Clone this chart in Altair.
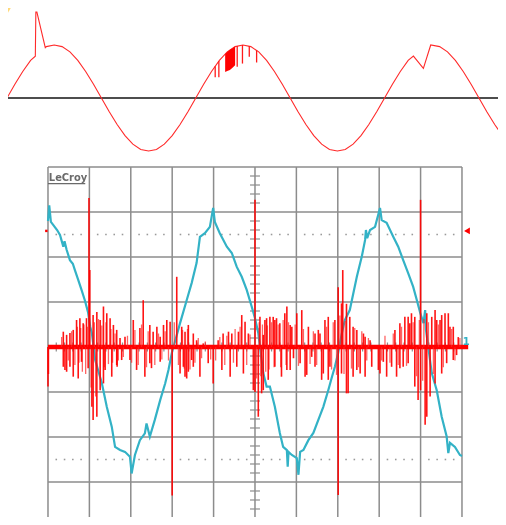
import altair as alt
import pandas as pd

# ---------------- upper schematic trace (x: electrical degrees, y: per-unit) ----------------
top_deg = [0, 15, 30, 45, 54, 55, 57, 73, 75, 90, 105, 120, 135, 150, 165, 180, 195, 210, 225,
           240, 255, 270, 285, 300, 315, 330, 345, 360, 375, 390, 405, 420, 435, 450, 465, 480,
           495, 510, 525, 540, 555, 570, 585, 600, 615, 630, 645, 660, 675, 690, 705, 720, 735,
           750, 765, 775, 794, 808, 825, 840, 855, 870, 885, 900, 915, 930, 945, 960]
top_amp = [0.00, 0.26, 0.50, 0.71, 0.79, 1.62, 1.62, 0.95, 0.97, 1.00, 0.97, 0.87, 0.71, 0.50,
           0.26, 0.00, -0.26, -0.50, -0.71, -0.87, -0.97, -1.00, -0.97, -0.87, -0.71, -0.50,
           -0.26, 0.00, 0.26, 0.50, 0.71, 0.87, 0.97, 1.00, 0.97, 0.87, 0.71, 0.50, 0.26, 0.00,
           -0.26, -0.50, -0.71, -0.87, -0.97, -1.00, -0.97, -0.87, -0.71, -0.50, -0.26, 0.00,
           0.26, 0.50, 0.71, 0.79, 0.56, 1.00, 0.97, 0.87, 0.71, 0.50, 0.26, 0.00, -0.26, -0.50,
           -0.71, -0.87]

# notches cut into the second positive half-wave
drop_deg = [397, 404, 439, 449, 462, 476]
drop_top = [0.60, 0.70, 0.98, 1.00, 0.98, 0.90]
drop_bot = [0.39, 0.39, 0.59, 0.65, 0.78, 0.67]

fill_deg = [416, 420, 425, 430, 435]
fill_top = [0.83, 0.87, 0.91, 0.94, 0.97]
fill_bot = [0.49, 0.51, 0.53, 0.57, 0.62]

# ---------------- oscilloscope capture (x, y in screen divisions) ----------------
grid_x = [0, 1, 2, 3, 4, 5, 6, 7, 8, 9, 10]
grid_y = [-4, -3, -2, -1, 0, 1, 2, 3, 4]
cursor_levels = [2.5, -2.5]

cyan_x = [0.00, 0.03, 0.07, 0.13, 0.22, 0.29, 0.37, 0.40, 0.45, 0.53, 0.60, 0.65, 0.73, 0.81,
          0.89, 0.97, 1.02, 1.06, 1.14, 1.30, 1.42, 1.54, 1.62, 1.74, 1.86, 1.98, 2.02, 2.10,
          2.22, 2.34, 2.38, 2.46, 2.58, 2.71, 2.83, 2.91, 2.99, 3.19, 3.35, 3.47, 3.59, 3.67,
          3.79, 3.91, 3.99, 4.03, 4.15, 4.32, 4.44, 4.56, 4.68, 4.80, 4.92, 5.00, 5.08, 5.16,
          5.20, 5.28, 5.36, 5.48, 5.60, 5.68, 5.77, 5.79, 5.81, 5.89, 6.01, 6.05, 6.09, 6.17,
          6.29, 6.41, 6.53, 6.65, 6.77, 6.86, 6.93, 7.01, 7.09, 7.17, 7.29, 7.46, 7.58, 7.66,
          7.68, 7.71, 7.78, 7.90, 8.02, 8.06, 8.18, 8.34, 8.46, 8.58, 8.70, 8.82, 8.91, 8.99,
          9.07, 9.11, 9.13, 9.27, 9.39, 9.51, 9.63, 9.67, 9.71, 9.83, 9.95, 10.00]
cyan_y = [2.80, 3.15, 2.78, 2.71, 2.60, 2.49, 2.23, 2.35, 2.16, 1.93, 1.85, 1.71, 1.49, 1.27,
          1.04, 0.76, 0.45, 0.31, -0.29, -0.80, -1.33, -1.77, -2.22, -2.29, -2.33, -2.44, -2.81,
          -2.40, -2.07, -1.92, -1.70, -1.99, -1.62, -1.18, -0.81, -0.51, -0.14, 0.53, 1.04, 1.42,
          1.87, 2.45, 2.53, 2.67, 3.09, 2.78, 2.53, 2.23, 2.09, 1.78, 1.56, 1.27, 0.90, 0.64,
          0.31, -0.29, -0.58, -0.88, -0.88, -1.33, -1.91, -2.22, -2.29, -2.66, -2.33, -2.40,
          -2.47, -2.84, -2.33, -2.29, -2.07, -1.91, -1.62, -1.33, -0.96, -0.66, -0.44, -0.13,
          0.27, 0.60, 0.82, 1.56, 2.01, 2.38, 2.60, 2.42, 2.60, 2.67, 3.09, 2.82, 2.76, 2.45,
          2.23, 1.93, 1.64, 1.34, 1.04, 0.76, 0.53, 0.82, 0.38, -0.58, -0.96, -1.55, -1.99,
          -2.36, -2.13, -2.22, -2.40, -2.42]

# strong red spikes
red_x = [
    0.00, 0.01, 0.37, 0.37, 0.41, 0.45, 0.45, 0.53, 0.53, 0.61,
    0.61, 0.69, 0.73, 0.77, 0.81, 0.85, 0.93, 0.97, 0.99, 1.01,
    1.06, 1.09, 1.09, 1.18, 1.18, 1.26, 1.26, 1.34, 1.34, 1.38,
    1.42, 1.50, 1.54, 1.58, 1.66, 1.66, 1.67, 1.74, 1.78, 1.86,
    1.98, 2.06, 2.14, 2.22, 2.30, 2.34, 2.46, 2.46, 2.50, 2.54,
    2.63, 2.71, 2.71, 2.79, 2.87, 2.95, 3.00, 3.11, 3.19, 3.23,
    3.27, 3.31, 3.31, 3.35, 3.39, 3.39, 3.47, 3.51, 3.51, 3.59,
    3.67, 3.75, 3.87, 3.99, 4.11, 4.20, 4.23, 4.36, 4.40, 4.44,
    4.56, 4.60, 4.68, 4.72, 4.76, 4.84, 4.96, 5.00, 5.00, 5.08,
    5.12, 5.16, 5.20, 5.20, 5.24, 5.28, 5.32, 5.36, 5.44, 5.48,
    5.48, 5.52, 5.60, 5.64, 5.72, 5.77, 5.77, 5.85, 5.85, 5.89,
    5.93, 6.01, 6.09, 6.13, 6.21, 6.25, 6.29, 6.37, 6.45, 6.45,
    6.53, 6.57, 6.61, 6.65, 6.69, 6.77, 6.77, 6.81, 6.93, 7.01,
    7.01, 7.09, 7.09, 7.12, 7.21, 7.21, 7.25, 7.29, 7.37, 7.37,
    7.46, 7.46, 7.54, 7.62, 7.66, 7.66, 7.78, 7.82, 7.98, 8.02,
    8.10, 8.18, 8.30, 8.38, 8.42, 8.50, 8.50, 8.58, 8.62, 8.70,
    8.70, 8.74, 8.78, 8.86, 8.86, 8.94, 9.00, 9.00, 9.11, 9.15,
    9.15, 9.23, 9.27, 9.35, 9.35, 9.39, 9.47, 9.51, 9.51, 9.59,
    9.63, 9.67, 9.71, 9.79, 9.79, 9.87, 9.91,
]
red_y = [
    -0.88, -0.60, 0.34, -0.44, -0.51, 0.27, -0.55, 0.31, -0.44, 0.38,
    -0.66, 0.60, -0.70, 0.64, -0.33, 0.53, 0.64, -0.47, 3.31, 1.71,
    -1.33, 0.71, -1.62, 0.78, -1.55, 0.60, -0.96, 0.90, -0.81, -0.51,
    0.75, 0.64, -0.66, 0.49, 0.38, -0.40, -0.44, 0.20, -0.29, 0.23,
    -0.29, 0.60, -0.51, 0.42, 1.04, -0.66, 0.49, -0.36, -0.47, 0.34,
    0.45, 0.23, -0.33, 0.49, 0.60, 0.56, -3.30, 1.56, -0.59, 0.45,
    -0.44, 0.34, -0.66, -0.70, 0.49, -0.55, -0.29, 0.30, -0.44, 0.15,
    -0.66, 0.08, -0.36, -0.81, 0.15, -0.51, 0.30, 0.34, -0.66, 0.30,
    -0.44, 0.34, 0.71, -0.59, 0.56, 0.30, -0.96, 3.27, -1.00, -1.55,
    0.67, -1.03, 0.27, -0.96, 0.60, 0.64, -0.73, 0.67, 0.67, 0.60,
    -0.44, 0.64, 0.53, -0.66, 0.75, 0.90, -0.51, 0.49, -0.51, 0.45,
    -0.25, 0.75, -0.36, 0.82, -0.66, -0.62, 0.45, -0.22, 0.30, -0.44,
    0.38, 0.30, -0.73, -0.59, 0.60, 0.67, -0.73, -0.44, 0.60, 1.33,
    -3.29, 0.97, -0.59, 1.71, 0.96, -1.03, -1.03, 0.67, 0.45, -0.66,
    0.38, -0.51, -0.59, 0.30, 0.23, -0.66, 0.15, -0.44, -0.51, -0.59,
    -0.33, -0.66, -0.44, 0.38, -0.66, 0.53, -0.47, -0.44, 0.67, 0.67,
    -0.36, 0.53, 0.75, 0.67, -0.88, -1.18, 3.27, -0.96, -1.73, 0.75,
    -1.55, -1.10, 0.67, 0.82, -0.81, 0.60, 0.60, 0.71, -0.59, 0.75,
    -0.36, 0.75, 0.45, 0.45, -0.29, -0.18, 0.22,
]

# fainter, smaller red spikes filling the noisy bursts
red2_x = [
    0.33, 0.49, 0.57, 0.65, 0.71, 0.75, 0.79, 0.83, 0.87, 0.91,
    0.95, 1.04, 1.12, 1.15, 1.22, 1.30, 1.36, 1.40, 1.46, 1.52,
    1.56, 1.62, 1.70, 1.82, 1.92, 2.02, 2.10, 2.18, 2.26, 2.38,
    2.42, 2.58, 2.67, 2.75, 2.83, 2.91, 3.05, 3.15, 3.25, 3.29,
    3.37, 3.43, 3.55, 3.63, 3.71, 3.80, 3.93, 4.05, 4.15, 4.27,
    4.32, 4.48, 4.52, 4.64, 4.80, 4.88, 5.04, 5.10, 5.14, 5.18,
    5.26, 5.30, 5.34, 5.40, 5.46, 5.56, 5.62, 5.68, 5.75, 5.81,
    5.97, 6.05, 6.17, 6.33, 6.41, 6.49, 6.73, 6.85, 6.89, 6.97,
    7.05, 7.15, 7.18, 7.33, 7.41, 7.50, 7.58, 7.70, 7.74, 8.06,
    8.14, 8.26, 8.34, 8.46, 8.54, 8.66, 8.82, 8.90, 8.97, 9.05,
    9.08, 9.19, 9.31, 9.43, 9.55, 9.75, 9.83, 9.95,
]
red2_y = [
    0.22, -0.30, 0.35, -0.40, 0.45, -0.35, 0.42, -0.55, 0.50, -0.60,
    0.45, -0.90, 0.55, -1.10, 0.62, 0.48, -0.45, 0.55, -0.38, 0.40,
    -0.35, 0.30, -0.30, -0.22, 0.25, -0.35, 0.38, -0.40, 0.50, -0.45,
    0.35, -0.40, 0.30, -0.28, 0.35, -0.30, 0.55, -0.40, 0.38, -0.48,
    0.40, -0.50, -0.35, 0.20, -0.25, 0.12, -0.28, -0.30, 0.22, -0.40,
    0.25, -0.35, 0.40, 0.45, -0.40, 0.28, -0.70, 0.55, -0.65, 0.50,
    -0.55, 0.48, -0.50, 0.55, -0.45, 0.50, -0.45, 0.60, -0.40, 0.55,
    0.50, -0.42, 0.40, -0.38, 0.35, -0.40, 0.45, -0.50, 0.55, -0.62,
    0.70, -0.60, 0.58, -0.48, 0.42, -0.45, 0.35, -0.30, 0.20, -0.30,
    0.25, -0.35, 0.30, -0.40, 0.45, -0.42, 0.55, -0.65, 0.60, -0.75,
    0.62, 0.55, -0.60, 0.50, -0.45, 0.40, -0.30, 0.20,
]

# ---------------- layout ----------------
W = 490
H_TOP = 155
H_BOT = 354

sx_top = alt.Scale(domain=[1.9, 936.3], nice=False, zero=False)
sy_top = alt.Scale(domain=[-1.226, 1.698], nice=False, zero=False)
sx_bot = alt.Scale(domain=[-0.966, 10.87], nice=False, zero=False)
sy_bot = alt.Scale(domain=[-3.778, 4.089], nice=False, zero=False)


def TX(f):
    return alt.X(f, scale=sx_top, axis=None)


def TY(f):
    return alt.Y(f, scale=sy_top, axis=None)


def BX(f):
    return alt.X(f, scale=sx_bot, axis=None)


def BY(f):
    return alt.Y(f, scale=sy_bot, axis=None)


# ---- top panel ----
sun = alt.Chart(pd.DataFrame({"deg": [-32.4], "amp": [1.887]})).mark_circle(
    size=2124, color="#FFD97A", opacity=1, clip=True
).encode(x=TX("deg:Q"), y=TY("amp:Q"))

zero_line = alt.Chart(pd.DataFrame({"d0": [0], "d1": [960], "a": [0]})).mark_rule(
    color="#4d4d4d", strokeWidth=1.8, clip=True
).encode(x=TX("d0:Q"), x2="d1", y=TY("a:Q"))

sine_df = pd.DataFrame({"deg": top_deg, "amp": top_amp, "i": range(len(top_deg))})
sine = alt.Chart(sine_df).mark_line(color="#ff2a2a", strokeWidth=1.1, clip=True).encode(
    x=TX("deg:Q"), y=TY("amp:Q"), order="i:Q"
)

drops = alt.Chart(pd.DataFrame({"deg": drop_deg, "top": drop_top, "bot": drop_bot})).mark_rule(
    color="#ff1a1a", strokeWidth=1.3, clip=True
).encode(x=TX("deg:Q"), y=TY("top:Q"), y2="bot")

fill = alt.Chart(pd.DataFrame({"deg": fill_deg, "top": fill_top, "bot": fill_bot})).mark_area(
    color="#ff0000", clip=True
).encode(x=TX("deg:Q"), y=TY("top:Q"), y2="bot")

top = alt.layer(sun, zero_line, sine, fill, drops).properties(width=W, height=H_TOP)

# ---- bottom panel (scope) ----
vgrid = alt.Chart(pd.DataFrame({"x": grid_x, "y0": -4.3, "y1": 4})).mark_rule(
    color="#8c8c8c", strokeWidth=1.5, clip=True
).encode(x=BX("x:Q"), y=BY("y0:Q"), y2="y1")

hgrid = alt.Chart(pd.DataFrame({"y": grid_y, "x0": 0, "x1": 10})).mark_rule(
    color="#8c8c8c", strokeWidth=1.5, clip=True
).encode(y=BY("y:Q"), x=BX("x0:Q"), x2="x1")

sub_y = [g + s for g in grid_y[:-1] for s in (0.2, 0.4, 0.6, 0.8)]
sub_x = [g + s for g in grid_x[:-1] for s in (0.2, 0.4, 0.6, 0.8)]

vticks = alt.Chart(pd.DataFrame({"y": sub_y, "x0": 4.88, "x1": 5.12})).mark_rule(
    color="#8c8c8c", strokeWidth=1.2, clip=True
).encode(y=BY("y:Q"), x=BX("x0:Q"), x2="x1")

hticks = alt.Chart(pd.DataFrame({"x": sub_x, "y0": -0.1, "y1": 0.1})).mark_rule(
    color="#8c8c8c", strokeWidth=1.2, clip=True
).encode(x=BX("x:Q"), y=BY("y0:Q"), y2="y1")

cursor_df = pd.DataFrame(
    [{"x": x, "y": lv} for lv in cursor_levels for x in sub_x]
)
cursors = alt.Chart(cursor_df).mark_square(size=2.5, color="#9a9a9a", opacity=1, clip=True).encode(
    x=BX("x:Q"), y=BY("y:Q")
)

cyan_df = pd.DataFrame({"x": cyan_x, "y": cyan_y, "i": range(len(cyan_x))})
cyan = alt.Chart(cyan_df).mark_line(color="#33b2c6", strokeWidth=2.2, clip=True).encode(
    x=BX("x:Q"), y=BY("y:Q"), order="i:Q"
)

baseline = alt.Chart(pd.DataFrame({"x0": [0.0], "x1": [10.15], "y": [0.0]})).mark_rule(
    color="#ff0000", strokeWidth=4.5, clip=True
).encode(x=BX("x0:Q"), x2="x1", y=BY("y:Q"))

red2_df = pd.DataFrame({"x": red2_x, "y": red2_y, "z": 0.0})
red2 = alt.Chart(red2_df).mark_rule(
    color="#ff2020", strokeWidth=1.3, opacity=0.7, blend="multiply", clip=True
).encode(x=BX("x:Q"), y=BY("z:Q"), y2="y")

red_df = pd.DataFrame({"x": red_x, "y": red_y, "z": 0.0})
red = alt.Chart(red_df).mark_rule(
    color="#ff0000", strokeWidth=1.6, opacity=0.92, blend="multiply", clip=True
).encode(x=BX("x:Q"), y=BY("z:Q"), y2="y")

tri = alt.Chart(pd.DataFrame({"x": [10.12], "y": [2.58]})).mark_point(
    shape="triangle-left", size=45, filled=True, color="#ff0000", opacity=1, clip=True
).encode(x=BX("x:Q"), y=BY("y:Q"))

left_mark = alt.Chart(pd.DataFrame({"x": [-0.04], "y": [2.58]})).mark_square(
    size=6, color="#ff0000", opacity=1, clip=True
).encode(x=BX("x:Q"), y=BY("y:Q"))

ch1 = alt.Chart(pd.DataFrame({"x": [10.10], "y": [0.12], "t": ["1"]})).mark_text(
    color="#33b2c6", fontSize=10, fontWeight="bold", font="DejaVu Sans", clip=True
).encode(x=BX("x:Q"), y=BY("y:Q"), text="t:N")

brand = alt.Chart(pd.DataFrame({"x": [0.02], "y": [3.69], "t": ["LeCroy"]})).mark_text(
    color="#6a6a6a", fontSize=11, fontWeight="bold", align="left", baseline="alphabetic",
    font="Liberation Sans Narrow, DejaVu Sans Condensed, DejaVu Sans", clip=True
).encode(x=BX("x:Q"), y=BY("y:Q"), text="t:N")

brand_line = alt.Chart(pd.DataFrame({"x0": [0.0], "x1": [0.9], "y": [3.63]})).mark_rule(
    color="#6a6a6a", strokeWidth=1.2, clip=True
).encode(x=BX("x0:Q"), x2="x1", y=BY("y:Q"))

bottom = alt.layer(
    vgrid, hgrid, vticks, hticks, cursors, cyan, baseline, red2, red, tri, left_mark, ch1,
    brand, brand_line
).properties(width=W, height=H_BOT)

chart = (
    alt.vconcat(top, bottom, spacing=0)
    .properties(padding=0, background="white")
    .configure_view(stroke=None)
)

chart.save("out.html", embed_options={"renderer": "svg", "actions": False})
